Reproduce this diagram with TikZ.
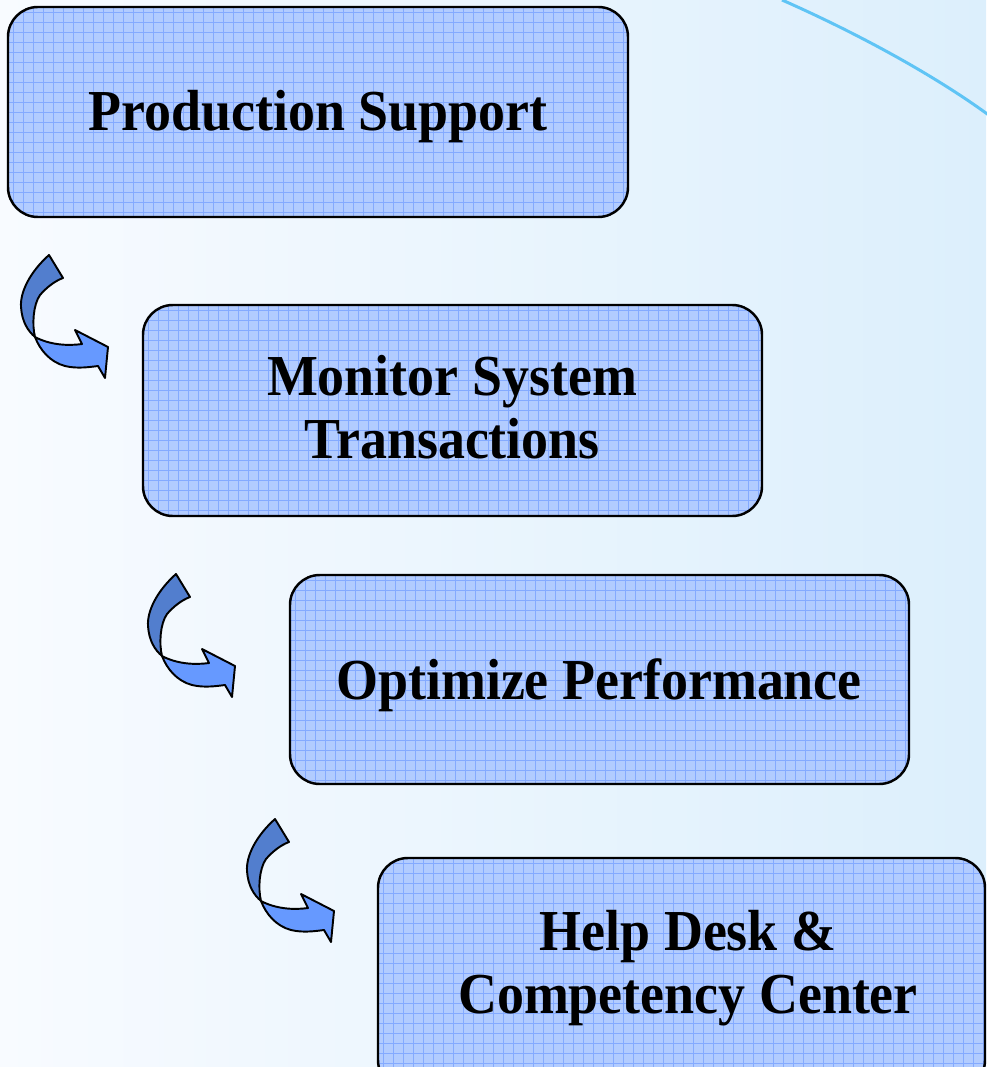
\documentclass[tikz,border=0pt]{standalone}
\usepackage{fontspec}
\setmainfont{Liberation Serif}
\definecolor{bgL}{RGB}{248,251,255}
\definecolor{bgR}{RGB}{220,239,252}
\definecolor{arcC}{RGB}{95,196,245}
\definecolor{boxF}{RGB}{178,204,255}
\definecolor{gridC}{RGB}{132,170,255}
\definecolor{arrD}{RGB}{82,126,206}
\definecolor{arrL}{RGB}{102,153,255}
\tikzset{
  boxshape/.style={draw=black, line width=1.4pt, rounded corners=17pt},
  boxtext/.style={inner sep=0pt},
  arrdark/.style={fill=arrD, draw=black, line width=1.1pt, line join=round},
  arrlight/.style={fill=arrL, draw=black, line width=1.1pt, line join=round},
}
\newcommand{\btext}[1]{\scalebox{0.93}[1]{\fontsize{33}{36}\selectfont\bfseries
  \begin{tabular}{@{}c@{}}#1\end{tabular}}}
\newcommand{\gridbox}[5]{% name, x1, y1, x2, y2
  \begin{scope}
    \clip[rounded corners=17pt] (#2,#3) rectangle (#4,#5);
    \fill[boxF] (#2,#3) rectangle (#4,#5);
    \foreach \i in {0,...,65} \draw[gridC, line width=0.5pt] ({#2+5+10*\i},#3) -- ({#2+5+10*\i},#5);
    \foreach \i in {0,...,25} \draw[gridC, line width=0.5pt] (#2,{#3+5+10*\i}) -- (#4,{#3+5+10*\i});
  \end{scope}
  \draw[boxshape] (#2,#3) rectangle (#4,#5);
  \coordinate (#1) at ({(#2+#4)/2},{(#3+#5)/2});
}
\newcommand{\curlarrow}[3]{% name, dx, dy
  \begin{scope}[shift={(#2,#3)}]
    \draw[arrdark] (49,255) .. controls (30,272) and (20,292) .. (21,307)
      .. controls (22,322) and (28,331) .. (35,337)
      .. controls (32,325) and (33,305) .. (40,295)
      .. controls (47,287) and (55,281) .. (63,278) -- cycle;
    \draw[arrlight] (35,337) .. controls (40,350) and (50,362) .. (65,366)
      .. controls (77,369) and (90,367) .. (98,366) -- (105,378) -- (108,347)
      -- (75,330) -- (82,344) .. controls (68,346) and (50,345) .. (35,337) -- cycle;
    \coordinate (#1) at (64,316);
  \end{scope}
}
\begin{document}
\begin{tikzpicture}[x=0.02cm, y=-0.02cm]
\useasboundingbox (0,0) rectangle (986,1067);
\shade[left color=bgL, right color=bgR] (0,0) rectangle (986,1067);
\draw[arcC, line width=1.7pt] (782,0) .. controls (850,30) and (930,72) .. (990,116);

\gridbox{b1}{8}{7}{628}{217}
\gridbox{b2}{143}{305}{762}{516}
\gridbox{b3}{290}{575}{909}{784}
\begin{scope}
  \clip (0,0) rectangle (986,1067);
  \gridbox{b4}{378}{858}{985}{1090}
\end{scope}

\node[boxtext] (t1) at (318,118) {\btext{Production Support}};
\node[boxtext] (t2) at (452,414) {\btext{Monitor System\\Transactions}};
\node[boxtext] (t3) at (599,687) {\btext{Optimize Performance}};
\node[boxtext] (t4) at (688,969) {\btext{Help Desk \&\\Competency Center}};

\curlarrow{a1}{0}{0}
\curlarrow{a2}{127}{319}
\curlarrow{a3}{226}{564}
\end{tikzpicture}
\end{document}
